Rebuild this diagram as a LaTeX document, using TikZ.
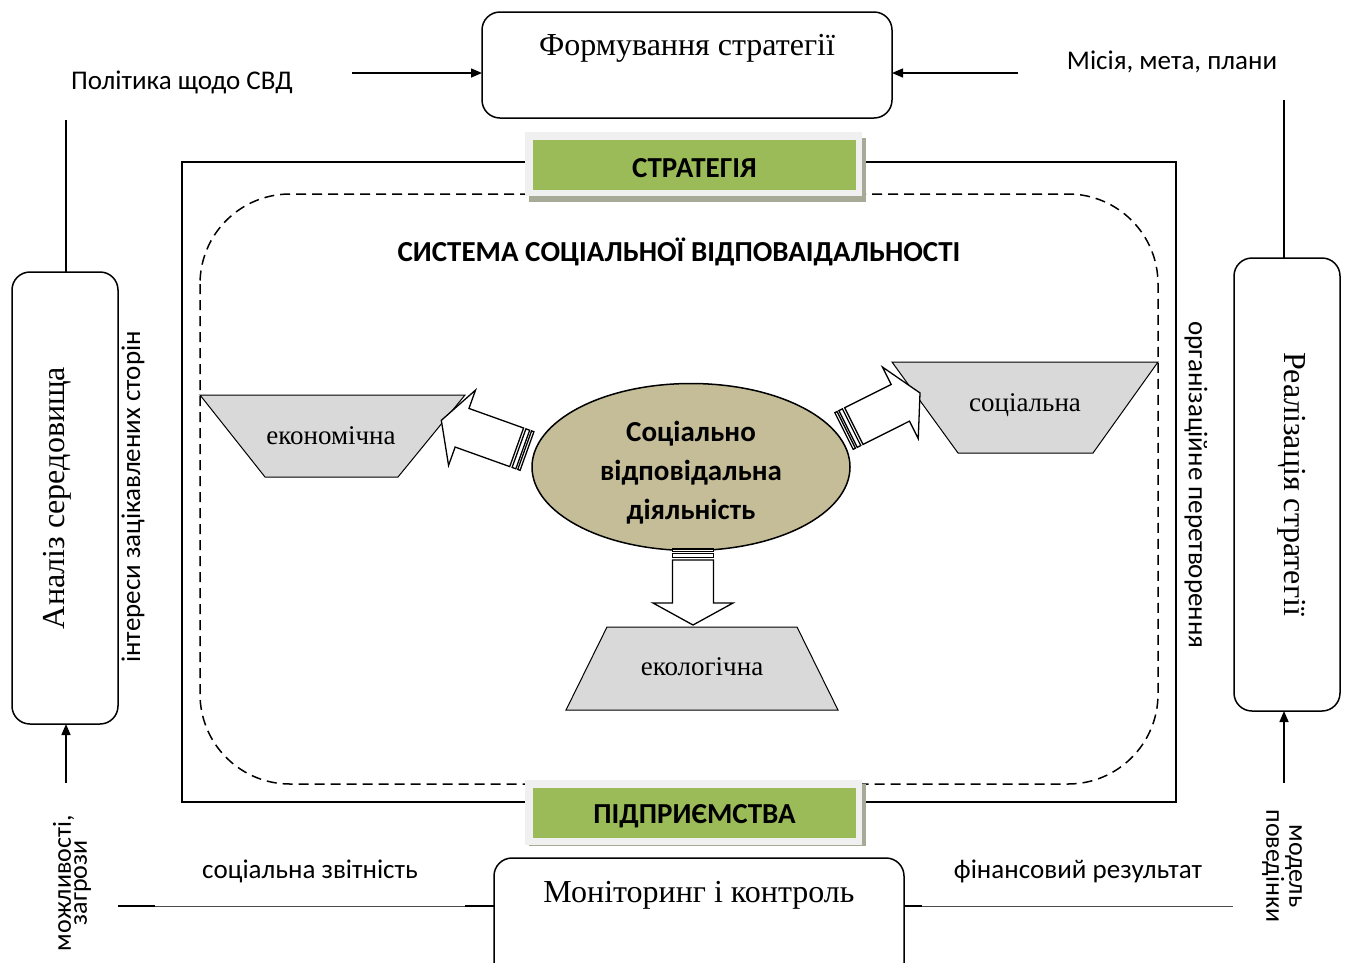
\documentclass[tikz,border=0pt]{standalone}
\usepackage{fontspec}
\setmainfont{Liberation Serif}
\newfontfamily\calib{Carlito}
\usetikzlibrary{arrows.meta,shapes.geometric}
\definecolor{labelgreen}{RGB}{155,187,89}
\definecolor{shadowgray}{RGB}{168,170,152}
\definecolor{framegray}{RGB}{240,240,240}
\definecolor{trapgray}{RGB}{217,217,217}
\definecolor{tan}{RGB}{196,189,151}
\tikzset{
  box/.style={draw, line width=1.5pt, rounded corners=18pt},
  plain/.style={line width=1.5pt},
  tip/.style={-{Triangle[length=11pt,width=9pt]}, line width=1.5pt},
  thinline/.style={draw=black!70, line width=0.8pt},
  trap/.style={draw, fill=trapgray, line width=1pt},
  blockarrow/.style={draw, fill=white, line width=1.3pt, line join=miter},
  sans/.style={font=\calib\fontsize{27}{31}\selectfont},
  sansbold/.style={font=\calib\bfseries\fontsize{29}{39}\selectfont},
  serif/.style={font=\fontsize{32}{36}\selectfont},
  trapfont/.style={font=\fontsize{27}{31}\selectfont},
  plate/.style={fill=labelgreen, minimum width=323pt, minimum height=50pt, inner sep=0pt},
  platetext/.style={font=\calib\bfseries\fontsize{29}{33}\selectfont},
  pair/.style={font=\calib\fontsize{26}{16}\selectfont, align=center},
}
% striped block arrow: tail point, direction angle, total length
\newcommand\stripedarrow[3]{%
  \begin{scope}[shift={#1}, rotate=#2]
    \draw[blockarrow] (11,-20.5) -- (#3-22,-20.5) -- (#3-22,-40) -- (#3,0)
      -- (#3-22,40) -- (#3-22,20.5) -- (11,20.5) -- cycle;
    \draw[blockarrow] (0,-20.5) rectangle (2.5,20.5);
    \draw[blockarrow] (4.5,-20.5) rectangle (8.5,20.5);
  \end{scope}}
\begin{document}
\begin{tikzpicture}[x=1pt,y=-1pt]
\clip (0,0) rectangle (1348,962);

% enterprise frame and the dashed system boundary
\draw[plain] (182,162) rectangle (1176,802);
\draw[line width=1.5pt, dash pattern=on 10pt off 6pt, rounded corners=90pt]
  (200,194) rectangle (1158,784);

% green title plates
\fill[shadowgray] (529,138) rectangle (866,202);
\fill[framegray] (525,132) rectangle (862,196);
\node[plate] (strat) at (694.5,165) {};
\node[platetext] (strattext) at (694.5,168) {СТРАТЕГІЯ};
\fill[shadowgray] (529,784) rectangle (866,846);
\fill[framegray] (525,780) rectangle (862,845);
\node[plate] (pidpr) at (694.5,813) {};
\node[platetext] (pidprtext) at (694.5,816) {ПІДПРИЄМСТВА};

\node[platetext] (sys) at (679,252) {СИСТЕМА СОЦІАЛЬНОЇ ВІДПОВАІДАЛЬНОСТІ};

% three dimensions of responsibility
\draw[trap] (200,395) -- (465,395) -- (398,477) -- (265,477) -- cycle;
\node[trapfont] (econ) at (331,436) {економічна};
\draw[trap] (892,362) -- (1158,362) -- (1093,453) -- (958,453) -- cycle;
\node[trapfont] (soc) at (1025,405) {соціальна};
\draw[trap] (607,627) -- (797,627) -- (838,710) -- (566,710) -- cycle;
\node[trapfont] (eco) at (702,667) {екологічна};

% central activity
\node[ellipse, draw, line width=1.5pt, fill=tan, minimum width=318pt,
  minimum height=167pt, inner sep=0pt] (act) at (691,467) {};
\node[sansbold, align=center] (acttext) at (691,473)
  {Соціально\\відповідальна\\діяльність};

% striped block arrows from the activity to each dimension
\stripedarrow{(527,451)}{160.3}{91}
\stripedarrow{(844,431)}{26.6}{85}
\stripedarrow{(693,549)}{-90}{76}

% strategy formation
\draw[box] (482,12) rectangle (892,118);
\node[serif] (form) at (687,48) {Формування стратегії};
\coordinate (form-w) at (482,73);
\coordinate (form-e) at (892,73);
\node[sans] (polit) at (182,82) {Політика щодо СВД};
\node[sans] (misia) at (1172,62) {Місія, мета, плани};
\coordinate (politend) at (352,73);
\coordinate (misiaend) at (1018,73);
\draw[tip] (politend) -- (form-w);
\draw[tip] (misiaend) -- (form-e);

% environment analysis (left)
\draw[box] (12,272) rectangle (118,724);
\node[serif, rotate=90] (anal) at (57,498) {Аналіз середовища};
\coordinate (anal-n) at (66,272);
\coordinate (anal-s) at (66,724);
\coordinate (leftup) at (66,120);
\coordinate (leftlow) at (66,783);
\draw[plain] (leftup) -- (anal-n);
\draw[tip] (leftlow) -- (anal-s);
\node[sans, rotate=90] (inter) at (133,497) {інтереси зацікавлених сторін};
\node[pair, rotate=90] (mozh) at (72,883) {можливості,\\загрози};

% strategy implementation (right)
\draw[box] (1234,258) rectangle (1340,711);
\node[serif, rotate=-90] (real) at (1292,484) {Реалізація стратегії};
\coordinate (real-n) at (1284,258);
\coordinate (real-s) at (1284,711);
\coordinate (rightup) at (1284,100);
\coordinate (rightlow) at (1284,783);
\draw[plain] (rightup) -- (real-n);
\draw[tip] (rightlow) -- (real-s);
\node[sans, rotate=-90] (org) at (1196,485) {організаційне перетворення};
\node[pair, rotate=-90] (model) at (1282,866) {модель\\поведінки};

% monitoring and control (bottom)
\draw[box] (494,858) rectangle (904,1000);
\node[serif] (monit) at (699,895) {Моніторинг і контроль};
\coordinate (monit-w) at (494,906);
\coordinate (monit-e) at (904,906);
\node[sans] (zvit) at (310,871) {соціальна звітність};
\node[sans] (fin) at (1078,871) {фінансовий результат};
\coordinate (lw1) at (118,906);
\coordinate (lw2) at (155,906);
\coordinate (lw3) at (465,906);
\draw[plain] (lw1) -- (lw2);
\draw[thinline] (lw2) -- (lw3);
\draw[plain] (lw3) -- (monit-w);
\coordinate (re1) at (922,906);
\coordinate (re2) at (1233,906);
\draw[plain] (monit-e) -- (re1);
\draw[thinline] (re1) -- (re2);
\end{tikzpicture}
\end{document}
